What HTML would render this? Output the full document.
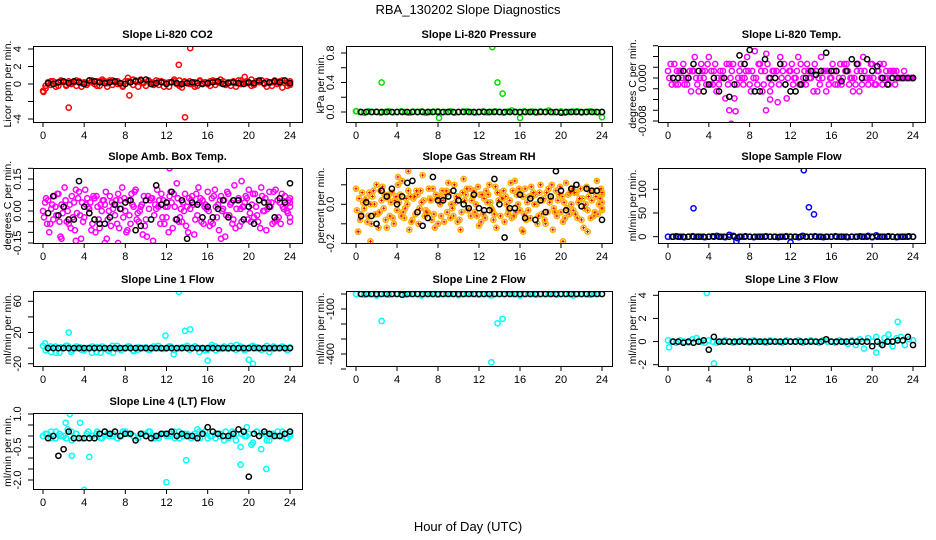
<!DOCTYPE html>
<html><head><meta charset="utf-8">
<style>
html,body{margin:0;padding:0;background:#fff;}
svg{display:block;font-family:"Liberation Sans",Arial,sans-serif;}
</style></head>
<body>
<svg id="chart" width="936" height="540" viewBox="0 0 936 540" xmlns="http://www.w3.org/2000/svg">
<rect x="0" y="0" width="936" height="540" fill="#fff"/>
<text x="468" y="14" text-anchor="middle" font-size="13">RBA_130202  Slope Diagnostics</text>
<text x="468" y="531" text-anchor="middle" font-size="13">Hour of Day (UTC)</text>
</svg>
<script>
// ---------- data ----------
const xTicks=[0,4,8,12,16,20,24];
const xTickLabels=["0","4","8","12","16","20","24"];

const co2Band=[-0.8,-0.2,0.2,-0.1,0.3,0.1,-0.2,0.3,0.2,-0.1,0.3,0.0,0.2,-0.2,0.3,0.1,0.2,-0.1,0.4,0.2,0.0,0.3,-0.2,0.5,0.3,0.1,0.4,-0.1,0.2,0.3,0.0,-0.3,0.3,0.7,0.2,-0.1,0.4,0.3,0.5,0.1,-0.2,0.3,0.2,0.0,0.4,-0.1,0.3,0.2,0.1,-0.3,0.2,0.3,0.0,0.4,-0.4,0.2,0.1,0.3,0.0,0.2,-0.2,0.3,0.1,0.2,0.0,0.3,0.4,-0.1,0.2,0.1,0.3,0.0,0.2,-0.2,0.3,0.1,0.4,0.0,0.2,0.3,0.1,0.5,-0.1,0.3,0.2,0.4,0.0,0.3,0.1,-0.2,0.4,0.2,0.3,-0.4,0.1,0.2,-0.1];
const co2Band2=[-0.5,0.3,-0.3,0.4,-0.2,0.2,0.4,-0.3,0.1,0.4,-0.2,0.3,-0.3,0.4,0.0,-0.2,0.3,0.5,-0.3,0.2,0.4,-0.1,0.3,-0.3,0.2,0.5,-0.2,0.3,0.0,-0.3,0.4,0.2,-0.2,0.3,0.5,-0.1,0.2,-0.3,0.4,0.1,-0.2,0.3,0.4,-0.3,0.2,0.0,0.4,-0.2,0.3];
const co2Black=[0.1,0.0,0.2,0.3,0.1,0.3,0.2,0.0,0.4,0.3,0.2,0.1,0.2,0.3,0.1,0.0,0.2,0.3,0.4,0.5,0.0,0.1,0.2,0.0,0.2,0.1,0.0,0.1,0.2,0.1,0.0,0.1,0.2,0.3,0.0,0.1,0.2,0.1,0.0,0.2,0.1,0.4,0.1,0.2,0.3,0.2,0.4,0.1];
const co2OutX=[2.5,8.4,13.2,13.8,14.3,19.6,0.05];
const co2OutY=[-2.7,-1.3,2.2,-3.8,4.1,0.8,-0.9];

const presBand=[0.01,0,-0.01,0.01,0,0.005,-0.01,0,0.01,-0.005,0,0.01,0,-0.01,0.005,0,0.01,-0.01,0,0.005,0.01,-0.005,0,0.01,-0.01,0,0.005,0.01,0,-0.01,0,0.01,-0.005,0,0.01,0,-0.01,0.005,0.02,0,-0.01,0.01,0,0.005,-0.01,0.01,0,0.02,-0.005,0,0.01,-0.01,0,0.005,0.01,-0.01,0,0.01,0,-0.005,0];
const presBlack=[0,0,0,0,0,0,0,0,0,0,0,0,0,0,0,0,0,0,0,0,0,0,0,0,0,0,0,0,0,0,0,0,0,0,0,0,0,0,0,-0.01,0,0,0,0,0,0,0,0];
const presOutX=[2.5,8.1,13.3,13.8,14.3,16.0,24.0,0.05];
const presOutY=[0.4,-0.08,0.88,0.4,0.25,-0.08,-0.07,0.01];

const tempA=[0.0013,0,-0.0012,0.0026,0,0.0013,-0.0025,0,0.0039,0.0013,-0.0012,0,0.0026,-0.0038,0.0013,0,-0.0012,0.005,0.0026,0.0013,-0.0025,0,0.0039,-0.0012,0.0013,0,0.0026,-0.0012,0,0.0013,0.0039,-0.0025,0,0.0013,-0.0012,0.0026,0,0.0013,-0.0012,0,0.0026,0.0013,-0.0012,0,0.0013,0,0,0,0];
const tempB=[0,0.0026,0.0013,-0.0012,0.0013,0.0039,0,0.0013,-0.0012,0.0026,0.0013,-0.0038,0,-0.0062,0.0026,0.0013,-0.0025,0,0.0013,0.0045,-0.0012,0.0013,0,-0.0038,0.0026,0.0013,-0.0012,0.0026,0.0013,-0.0025,0,0.0013,0.0026,-0.0012,0,0.0013,-0.0025,0.0026,0.0039,-0.0012,0,0.0013,0.0026,-0.0012,0.0013,0,0.0013,0,0];
const tempC=[0.0026,-0.0012,0.0013,0,-0.0025,0,0.0026,-0.0012,0.0013,-0.0025,0,0.0026,0.0013,-0.0012,0,0.0039,0.0013,-0.0012,-0.0025,0.0026,0.0013,-0.0045,0.0013,0,-0.0012,0.0039,0,0.0013,-0.0025,0,0.0013,-0.0012,0.0013,0,0.0026,-0.0012,0,-0.0025,0.0013,0,-0.0012,0.0026,0,0.0013,-0.0012,0,0,0,0];
const tempD=[-0.0012,0.0013,0,-0.0012,0.0013,-0.0012,0.0013,0.0026,-0.0012,0,0.0013,-0.0012,0.0026,0,-0.0012,0.0013,0,0.0026,-0.0012,0,0.0013,-0.0012,0.0026,0.0013,0,-0.0012,0.0013,0,0.0026,-0.0012,0.0013,0,-0.0012,0.0026,0.0013,0,-0.0012,0.0013,0,0.0026,-0.0012,0,0.0013,0,0.0013,0,0,0,0];
const tempBlack=[0,0,0.0013,0,0.0026,0.0013,-0.0025,-0.0012,0,-0.0025,0,-0.0035,-0.0012,0.0042,0.0026,0.0052,-0.0025,-0.0025,0.0035,0,0,0.0026,-0.0012,-0.0025,-0.0025,-0.0012,0,0.0013,0.0006,0.0013,0.0047,0.0013,0.0013,-0.0006,0.0013,0.0035,0.0026,0,0.0035,0.0013,0.0022,0,-0.0012,0,0,0,0,0];
const tempOutX=[6.0,6.2,9.6,10.0];
const tempOutY=[-0.0060,-0.0085,-0.0060,-0.0040];

const ambA=[0.0,0.05,-0.04,0.08,0.02,-0.06,0.04,0.09,-0.03,0.01,0.06,-0.08,0.03,0.07,-0.02,0.05,0.0,-0.06,0.1,0.02,-0.04,0.06,0.01,0.08,-0.03,0.04,0.13,-0.05,0.02,0.07,-0.02,0.05,0.09,-0.06,0.03,0.01,0.08,-0.04,0.06,0.02,0.1,-0.03,0.05,0.0,0.09,-0.05,0.04,0.07,0.02];
const ambB=[-0.03,-0.1,0.07,-0.05,0.11,0.03,-0.09,-0.02,0.1,0.04,-0.1,0.03,0.09,-0.07,0.05,0.01,-0.1,0.08,-0.04,0.03,-0.12,0.06,0.1,-0.03,0.02,-0.08,0.06,0.04,-0.1,0.03,0.11,-0.06,0.0,0.07,-0.09,0.05,-0.02,0.12,-0.07,0.04,-0.01,0.08,-0.08,0.06,0.02,0.1,-0.06,0.03,0.06];
const ambC=[0.04,-0.06,0.02,-0.12,0.05,-0.08,0.1,-0.13,0.03,-0.09,0.07,0.0,-0.13,0.04,-0.06,0.11,-0.09,0.03,-0.01,-0.11,0.07,-0.14,0.02,0.05,-0.1,0.08,-0.05,0.0,0.06,-0.11,0.04,0.02,-0.07,0.1,0.05,-0.12,0.03,-0.08,0.01,0.07,-0.05,0.02,0.11,-0.09,0.04,-0.04,0.08,0.0,-0.03];
const ambD=[0.06,0.01,-0.02,0.03,-0.05,0.07,-0.01,0.04,0.06,-0.06,0.02,0.05,-0.04,0.01,0.08,-0.03,0.05,0.02,-0.05,0.07,0.01,-0.02,0.05,-0.06,0.07,0.02,-0.03,0.08,0.01,-0.04,0.06,0.03,-0.05,0.02,0.07,-0.02,0.04,0.01,-0.05,0.06,0.03,-0.02,0.07,0.01,-0.06,0.05,0.02,-0.01,0.04];
const ambE=[-0.06,0.03,0.08,-0.01,0.0,-0.03,0.06,-0.05,0.02,0.07,-0.04,0.05,0.0,0.03,-0.08,0.06,-0.02,0.09,0.0,-0.07,0.05,0.03,-0.06,0.02,0.09,-0.04,0.01,-0.07,0.05,0.08,-0.05,0.01,0.06,-0.03,0.0,0.09,-0.06,0.05,0.02,-0.04,0.08,-0.05,0.0,0.04,0.09,-0.03,0.01,0.05,-0.05];
const ambBlack=[-0.01,0.07,-0.02,0.02,-0.04,-0.04,0.14,0.02,-0.01,-0.04,-0.06,-0.06,-0.03,0.03,0.01,0.04,0.05,-0.09,-0.07,0.05,-0.04,0.12,0.03,0.04,0.09,-0.04,0.05,-0.13,0.04,0.03,-0.03,0.02,-0.03,0.01,0.05,-0.03,0.05,0.05,-0.04,0.02,-0.06,0.05,0.04,0.02,-0.03,0.06,0.04,0.13];
const ambOutX=[1.8,3.2,6.0,7.3,12.3,17.3,19.3];
const ambOutY=[-0.13,-0.14,-0.15,-0.15,0.2,-0.13,0.14];

const rhA=[0.08,-0.05,0.03,-0.1,0.1,0.02,-0.12,0.06,-0.03,0.12,0.0,-0.08,0.05,0.15,-0.04,0.08,-0.1,0.02,0.11,-0.06,0.04,0.13,-0.02,0.07,-0.11,0.03,0.1,-0.05,0.06,-0.09,0.02,0.12,-0.03,0.08,-0.07,0.05,0.1,-0.1,0.03,0.07,-0.04,0.11,0.0,0.06,-0.08,0.09,0.02,0.12,0.05];
const rhB=[-0.03,0.06,-0.09,0.04,-0.05,0.09,0.03,-0.07,0.1,-0.04,0.07,0.03,-0.1,0.02,0.08,-0.05,0.04,-0.09,0.06,0.1,-0.08,0.02,0.08,-0.04,0.05,-0.07,0.01,0.09,-0.06,0.04,0.11,-0.04,0.06,-0.08,0.09,0.0,-0.05,0.06,0.1,-0.06,0.04,-0.02,0.08,-0.07,0.03,-0.03,0.07,-0.05,0.01];
const rhC=[-0.14,0.01,-0.06,0.07,-0.12,-0.02,0.05,-0.1,0.01,-0.07,-0.13,0.04,-0.02,-0.06,0.03,-0.12,0.0,0.05,-0.07,0.01,-0.13,0.05,-0.06,0.0,-0.09,0.07,-0.02,-0.12,0.03,0.0,-0.07,0.05,-0.13,0.01,0.04,-0.1,0.02,-0.04,-0.13,0.02,-0.09,0.05,-0.03,0.01,-0.12,0.04,-0.06,0.0,-0.03];
const rhD=[0.03,-0.02,0.06,0.0,-0.04,0.05,-0.06,0.02,0.05,-0.02,0.04,-0.05,0.07,-0.03,0.02,0.05,-0.06,0.07,0.0,0.04,-0.04,0.08,0.02,-0.06,0.05,0.01,-0.03,0.06,0.03,-0.05,0.07,0.0,0.04,-0.03,0.06,-0.06,0.03,0.08,-0.02,0.05,0.01,-0.05,0.06,0.03,-0.02,0.07,-0.04,0.03,0.06];
const rhE=[-0.08,0.02,0.0,-0.05,0.07,-0.08,0.01,0.04,-0.06,0.03,-0.09,0.07,0.01,-0.04,-0.08,0.03,0.07,-0.04,-0.02,-0.09,0.06,-0.03,0.04,0.09,-0.05,0.05,-0.08,0.02,0.07,-0.03,-0.06,0.08,-0.05,0.04,0.0,0.06,-0.08,0.01,-0.04,0.09,-0.07,0.06,-0.05,0.08,0.0,-0.07,0.04,0.08,-0.02];
const rhBlack=[-0.06,0.01,-0.06,-0.1,0.07,0.04,0.08,0.0,0.04,0.11,0.12,-0.04,-0.11,-0.07,0.14,0.02,0.02,0.04,0.07,0.02,0.0,-0.02,0.05,-0.02,-0.03,-0.03,0.13,0.0,-0.17,-0.02,-0.02,0.05,-0.07,0.03,-0.08,0.02,-0.04,0.04,0.17,0.07,-0.03,0.08,0.1,-0.01,0.08,0.07,0.07,-0.08];
const rhOutX=[0.2,1.4,4.1,5.1,16.3,20.2,22.6];
const rhOutY=[-0.14,-0.19,0.14,0.17,-0.14,-0.19,-0.14];

const sfBand=[0,0,1,0,-1,0,1,0,0,-1,0,1,2,0,-1,4,2,-3,0,1,0,-1,0,0,1,0,0,-1,0,1,0,0,-1,2,0,0,1,0,-1,0,0,1,0,0,-1,0,0,1,0,2,-1,3,0,0,1,0,-1,0,0,1,0];
const sfBlack=[0,0,0,0,0,0,0,0,0,0,0,0,0,0,0,0,0,0,0,0,0,0,0,0,0,0,0,0,0,0,0,0,0,0,0,0,0,0,0,0,0,0,0,0,0,0,0,0];
const sfOutX=[2.5,13.3,13.8,14.3,6.7,12.0];
const sfOutY=[60,140,62,47,-10,-12];

const l1Band=[3,0,-5,2,-6,0,3,-2,0,1,-3,0,2,-5,-6,0,-4,-6,3,-3,0,2,-4,-2,0,1,-2,0,3,-1,0,2,-2,0,1,3,0,2,-5,0,-2,4,-3,0,2,-1,0,4,2,-3,0,3,1,-2,0,-5,2,0,1,-1,0];
const l1Band2=[-3,2,-6,1,3,-5,2,-2,0,-6,1,2,-2,3,-1,0,2,-3,1,0,-2,2,0,-1,2,-2,0,1,-2,2,0,-3,1,2,-1,0,3,-2,0,-1,2,0,-2,3,-1,0,2,-3,1];
const l1Black=[0,0,0,0,0,0,0,0,0,0,0,0,0,0,0,0,0,0,0,0,0,0,0,0,0,0,0,0,0,0,0,0,0,0,0,0,0,0,0,0,0,0,0,0,0,0,0,0];
const l1OutX=[2.5,11.9,13.2,13.8,14.3,16.0,20.0,20.4,12.7,0.2];
const l1OutY=[20,16,72,22,24,-16,-15,-20,-8,6];

const l2Band=[0,0,-5,0,0,-10,0,0,-5,0,0,0,-5,0,0,0,-10,0,0,0,-5,0,0,0,0,-8,0,0,0,0,-5,0,0,-10,0,0,0,8,0,0,-10,0,0,0,-5,0,0,0,0,-5,0,0,0,-10,0,0,0,-5,0,0,0];
const l2Black=[0,0,0,0,0,0,0,0,-5,0,0,0,0,0,0,0,0,0,0,0,0,0,0,0,0,0,0,0,0,0,0,0,0,0,0,0,0,0,0,0,0,0,0,0,0,0,0,0];
const l2OutX=[2.5,13.2,13.8,14.3];
const l2OutY=[-180,-455,-195,-165];

const l3Band=[0.1,0,-0.1,0.1,0,-0.1,0.2,0.3,0,-0.1,0.1,0,-0.1,0,0.1,0,-0.1,0,0.1,0,-0.1,0.1,0,0,-0.1,0.1,0,0,-0.1,0.1,0,0,0.1,-0.1,0,0.1,0,-0.1,0.1,0,0,-0.1,0.1,0,-0.2,0.1,-0.3,0.2,-0.6,0.3,0,0.4,-0.2,0.3,0,-0.4,0.3,0.4,-0.3,0.2,0.1];
const l3Black=[0,0,-0.1,0,-0.1,0,0.1,-0.7,0.4,0,0,0,0,0,0,0,0,0,0,0,0,0,0,0,0,0,0,0,0,0,0.2,0,0,0,0,0,0,0,0,-0.4,0,-0.3,0,0,0.1,0.1,0.4,-0.3];
const l3OutX=[0.1,3.8,4.5,20.4,22.5,21.6];
const l3OutY=[-0.5,4.2,-1.9,-0.95,1.7,0.6];

const l4Band=[0,0.1,0.2,-0.1,0.1,0,0.3,-0.2,0.1,0.6,-0.1,0.2,0,0.1,-0.1,0.2,0,0.1,-0.1,0,0.2,0.1,0,-0.1,0.1,0,0.2,-0.1,0,0.1,0,0.1,-0.1,0.2,0,0.1,-0.1,0,0.2,0.1,-0.1,0,0.1,0,-0.2,-0.1,0.2,0.1,-0.5,0,0.1,-0.3,0.2,-0.6,0.1,-0.2,0.1,0.2,0,-0.1,0];
const l4Band2=[0.1,-0.1,0.2,0,-0.1,0.2,0.1,-0.1,0.1,0,0.2,-0.1,0.1,0,-0.1,0.2,0.1,0,-0.1,0.1,0.2,0,-0.1,0.1,0,0.2,-0.1,0.1,0,0.1,-0.1,0.2,0,-0.1,0.1,0.2,0,-0.2,0.1,0,-0.4,0.2,0.1,-0.2,0.1,0,0.2,-0.1,0.1];
const l4Black=[-0.1,0,-0.9,-0.6,0.2,-0.1,-0.1,-0.1,-0.1,-0.1,0.1,0.2,0.1,0.2,0,0.1,0.1,-0.2,0.1,0,-0.1,0,0.1,0.1,0.2,0,0.1,0,0,-0.1,0.1,0.4,0.2,0.1,0,0,0.1,0.3,0.2,-1.85,0.1,0,0.2,0.1,0,0,0.1,0.2];
const l4OutX=[2.6,2.2,4.0,4.5,2.8,12.0,13.9,19.2,19.8,21.7,15.0];
const l4OutY=[1.0,0.6,-2.45,-0.95,-0.9,-2.1,-1.1,-1.3,0.4,-1.5,0.3];

// ---------- layout ----------
const NS="http://www.w3.org/2000/svg";
const svg=document.getElementById("chart");
const cols=[{bl:33,br:302,x0:43,x24:290},{bl:346,br:612,x0:356,x24:602},{bl:658,br:925,x0:668,x24:913}];
const rows=[{t:46,b:122},{t:168,b:243},{t:291,b:366},{t:413,b:489}];

const panels=[
 {c:0,r:0,key:"co2",title:"Slope Li-820 CO2",ylab:"Licor ppm per min.",v1:4,p1:49,v2:-4,p2:119,ticks:[-4,-2,0,2,4],labs:["-4","","0","2","4"],col:"#ff0000",bands:[co2Band,co2Band2],black:co2Black,ox:co2OutX,oy:co2OutY},
 {c:1,r:0,key:"pressure",title:"Slope Li-820 Pressure",ylab:"kPa per min.",v1:0.8,p1:53,v2:0,p2:112,ticks:[0,0.2,0.4,0.6,0.8],labs:["0.0","","0.4","","0.8"],col:"#00dd00",bands:[presBand],black:presBlack,ox:presOutX,oy:presOutY},
 {c:2,r:0,key:"temp",title:"Slope Li-820 Temp.",ylab:"degrees C per min.",v1:0,p1:78,v2:-0.008,p2:121,ticks:[-0.008,-0.006,-0.004,-0.002,0,0.002,0.004,0.006],labs:["-0.008","","","","0.000","","",""],col:"#ff00ff",bands:[tempA,tempB,tempC,tempD],black:tempBlack,ox:tempOutX,oy:tempOutY},
 {c:0,r:1,key:"amb",title:"Slope Amb. Box Temp.",ylab:"degrees C per min.",v1:0.15,p1:179,v2:-0.15,p2:243,ticks:[-0.15,-0.1,-0.05,0,0.05,0.1,0.15,0.2],labs:["-0.15","","","0.00","","","0.15",""],col:"#ff00ff",bands:[ambA,ambB,ambC,ambD,ambE],black:ambBlack,ox:ambOutX,oy:ambOutY},
 {c:1,r:1,key:"rh",title:"Slope Gas Stream RH",ylab:"percent per min.",v1:0,p1:204.3,v2:-0.2,p2:243.3,ticks:[-0.2,-0.1,0,0.1],labs:["-0.2","","0.0",""],col:"#ffb000",cross:"#ee0000",bands:[rhA,rhB,rhC,rhD,rhE],black:rhBlack,ox:rhOutX,oy:rhOutY},
 {c:2,r:1,key:"sample-flow",title:"Slope Sample Flow",ylab:"ml/min per min.",v1:100,p1:189.3,v2:0,p2:236.7,ticks:[0,50,100],labs:["0","50","100"],col:"#0000ff",bands:[sfBand],black:sfBlack,ox:sfOutX,oy:sfOutY},
 {c:0,r:2,key:"line1",title:"Slope Line 1 Flow",ylab:"ml/min per min.",v1:60,p1:301.3,v2:-20,p2:363.7,ticks:[-20,0,20,40,60],labs:["-20","","20","","60"],col:"#00ffff",bands:[l1Band,l1Band2],black:l1Black,ox:l1OutX,oy:l1OutY},
 {c:1,r:2,key:"line2",title:"Slope Line 2 Flow",ylab:"ml/min per min.",v1:-100,p1:309,v2:-400,p2:354,ticks:[-500,-400,-300,-200,-100,0],labs:["","-400","","","-100",""],col:"#00ffff",bands:[l2Band],black:l2Black,ox:l2OutX,oy:l2OutY},
 {c:2,r:2,key:"line3",title:"Slope Line 3 Flow",ylab:"ml/min per min.",v1:4,p1:295.3,v2:-2,p2:364.7,ticks:[-2,0,2,4],labs:["-2","0","2","4"],col:"#00ffff",bands:[l3Band],black:l3Black,ox:l3OutX,oy:l3OutY},
 {c:0,r:3,key:"line4",title:"Slope Line 4 (LT) Flow",ylab:"ml/min per min.",v1:1,p1:414,v2:-2,p2:480,ticks:[-2,-1.5,-1,-0.5,0,0.5,1],labs:["-2.0","","","-0.5","","","1.0"],col:"#00ffff",bands:[l4Band,l4Band2],black:l4Black,ox:l4OutX,oy:l4OutY}
];

function mk(tag,attrs,parent){const e=document.createElementNS(NS,tag);for(const k in attrs)e.setAttribute(k,attrs[k]);(parent||svg).appendChild(e);return e;}

function marker(g,x,y,color,cross){
  const c=mk("circle",{cx:x.toFixed(1),cy:y.toFixed(1),r:2.6,fill:"none",stroke:color,"stroke-width":1.5},g);
  
  
  if(cross){
    mk("path",{d:`M${(x-1.5).toFixed(1)} ${y.toFixed(1)}h3M${x.toFixed(1)} ${(y-1.5).toFixed(1)}v3`,stroke:cross,"stroke-width":1},g);
  }
}

panels.forEach(p=>{
  const C=cols[p.c],R=rows[p.r];
  const g=mk("g",{});
  
  
  const sx=v=>C.x0+(C.x24-C.x0)*v/24;
  const k=(p.p2-p.p1)/(p.v2-p.v1);
  const sy=v=>p.p1+(v-p.v1)*k;
  const cid="clip-"+p.key;
  const cp=mk("clipPath",{id:cid},g);
  mk("rect",{x:C.bl,y:R.t,width:C.br-C.bl,height:R.b-R.t},cp);
  const pts=mk("g",{"clip-path":`url(#${cid})`},g);
  
  
  p.bands.forEach((arr,bi)=>{
    const n=arr.length;
    const off=bi*(24/(n-1))/p.bands.length;
    arr.forEach((v,i)=>{const h=Math.min(24,i*24/(n-1)+off);marker(pts,sx(h),sy(v),p.col,p.cross);});
  });
  p.ox.forEach((h,i)=>marker(pts,sx(h),sy(p.oy[i]),p.col,p.cross));
  const nb=p.black.length;
  p.black.forEach((v,i)=>{const h=0.5+i*23.5/(nb-1);marker(pts,sx(h),sy(v),"#000");});
  const box=mk("rect",{x:C.bl+0.5,y:R.t+0.5,width:C.br-C.bl,height:R.b-R.t,fill:"none",stroke:"#000","stroke-width":1},g);
  
  
  xTicks.forEach((t,i)=>{
    const x=sx(t);
    mk("line",{x1:x,y1:R.b,x2:x,y2:R.b+5,stroke:"#000"},g);
    const tl=mk("text",{x:x,y:R.b+17,"text-anchor":"middle","font-size":11},g);
    
    
    tl.textContent=xTickLabels[i];
  });
  p.ticks.forEach((t,i)=>{
    const y=sy(t);
    mk("line",{x1:C.bl-5,y1:y,x2:C.bl,y2:y,stroke:"#000"},g);
    if(p.labs[i]){
      const tl=mk("text",{x:0,y:0,"text-anchor":"middle","font-size":11,transform:`translate(${C.bl-12},${y}) rotate(-90)`},g);
      
      
      tl.textContent=p.labs[i];
    }
  });
  const mid=(R.t+R.b)/2;
  const yl=mk("text",{x:0,y:0,"text-anchor":"middle","font-size":10.5,transform:`translate(${C.bl-22},${mid}) rotate(-90)`},g);
  
  
  yl.textContent=p.ylab;
  const tt=mk("text",{x:(C.bl+C.br)/2,y:R.t-8,"text-anchor":"middle","font-size":11,"font-weight":"bold"},g);
  
  
  tt.textContent=p.title;
});
</script>
</body></html>
